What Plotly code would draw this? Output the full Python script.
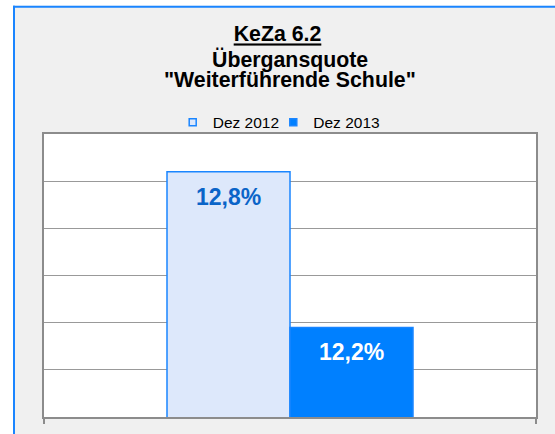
import plotly.graph_objects as go

# ---- data ----
categories = ["Weiterführende Schule"]
series_names = ["Dez 2012", "Dez 2013"]
values_2012 = [0.1284]
values_2013 = [0.1218]
title_lines = ["KeZa 6.2", "Übergansquote", "\"Weiterführende Schule\""]
y_min, y_max, y_step = 0.118, 0.130, 0.002

# ---- layout geometry (pixels) ----
W, H = 555, 434
ML, MR, MT, MB = 44, 19, 134, 13
PW, PH = W - ML - MR, H - MT - MB
FONT = "Liberation Sans, Arial, Helvetica, sans-serif"


def px_x(X):
    return (X - ML) / PW


def px_y(Y):
    return (H - MB - Y) / PH


def fmt(v):
    return f"{v * 100:.1f}".replace(".", ",") + "%"


fill_colors = ["#dde8fb", "#0080ff"]
line_color = "#1a85ff"
text_colors = ["#0a64c8", "#ffffff"]
bargap = 0.5
legend_ids = ["legend", "legend2"]
legend_left_px = [172.7, 273.3]

fig = go.Figure()
all_series = [values_2012, values_2013]
for i, (name, vals) in enumerate(zip(series_names, all_series)):
    fig.add_trace(go.Bar(
        x=categories, y=vals, name=name, showlegend=False,
        marker=dict(color=fill_colors[i], line=dict(color=line_color, width=1.5)),
        hoverinfo="skip",
    ))
    # legend-only entries with small square markers
    fig.add_trace(go.Scatter(
        x=[None], y=[None], mode="markers", name=name, legend=legend_ids[i],
        marker=dict(symbol="square", size=7, color=fill_colors[i],
                    line=dict(color=line_color, width=1.5)),
    ))

# bar value labels
bw = (1 - bargap) / 2
annotations = []
for i, vals in enumerate(all_series):
    for j, v in enumerate(vals):
        annotations.append(dict(
            x=j - bw / 2 + i * bw, y=v, xref="x", yref="y",
            text=f"<b>{fmt(v)}</b>", showarrow=False,
            yanchor="middle", yshift=-25,
            font=dict(family=FONT, size=23, color=text_colors[i]),
        ))

# title lines 2 and 3
for txt, Yc in [(title_lines[1], 58), (title_lines[2], 79)]:
    annotations.append(dict(
        x=0.5, y=px_y(Yc), xref="paper", yref="paper",
        text=f"<b>{txt}</b>", showarrow=False, yanchor="middle",
        font=dict(family=FONT, size=21.3, color="#000000"),
    ))

# outer frame: white outside, light gray inside, blue edges (top/left)
shapes = [
    dict(type="rect", xref="paper", yref="paper", x0=px_x(-20), x1=px_x(13),
         y0=px_y(H + 20), y1=px_y(-20), fillcolor="#ffffff", line=dict(width=0), layer="below"),
    dict(type="rect", xref="paper", yref="paper", x0=px_x(-20), x1=px_x(W + 20),
         y0=px_y(4), y1=px_y(-20), fillcolor="#ffffff", line=dict(width=0), layer="below"),
    dict(type="line", xref="paper", yref="paper", x0=px_x(14), x1=px_x(14),
         y0=px_y(H + 20), y1=px_y(4), line=dict(color="#1a85ff", width=2), layer="below"),
    dict(type="line", xref="paper", yref="paper", x0=px_x(13), x1=px_x(W + 20),
         y0=px_y(5), y1=px_y(5), line=dict(color="#1a85ff", width=2), layer="below"),
]

legend_common = dict(orientation="h", xanchor="left", y=px_y(122.5), yanchor="middle",
                     font=dict(family=FONT, size=15.5, color="#000000"),
                     bgcolor="rgba(0,0,0,0)", itemclick=False, itemdoubleclick=False)

fig.update_layout(
    width=W, height=H,
    margin=dict(l=ML, r=MR, t=MT, b=MB),
    paper_bgcolor="#f0f0f0", plot_bgcolor="#ffffff",
    barmode="group", bargap=bargap, bargroupgap=0,
    title=dict(text=f"<b>{title_lines[0]}</b>", x=0.5, xanchor="center",
               yref="container", y=1 - 34 / H, yanchor="middle",
               font=dict(family=FONT, size=21.3, color="#000000", lineposition="under")),
    legend=dict(x=px_x(legend_left_px[0]), **legend_common),
    legend2=dict(x=px_x(legend_left_px[1]), **legend_common),
    showlegend=True,
    annotations=annotations, shapes=shapes,
    font=dict(family=FONT),
)
fig.update_xaxes(showticklabels=False, showgrid=False, showline=True, mirror=True,
                 linecolor="#8c8c8c", linewidth=2, ticks="outside", tickson="boundaries",
                 ticklen=5, tickwidth=2, tickcolor="#8c8c8c", zeroline=False)
fig.update_yaxes(range=[y_min, y_max], dtick=y_step, tick0=y_min, showticklabels=False,
                 showgrid=True, gridcolor="#999999", gridwidth=1, showline=True, mirror=True,
                 linecolor="#8c8c8c", linewidth=2, ticks="", zeroline=False)

fig.write_html("out.html", config={"displayModeBar": False},
               post_script="document.body.style.margin='0';document.body.style.padding='0';")
